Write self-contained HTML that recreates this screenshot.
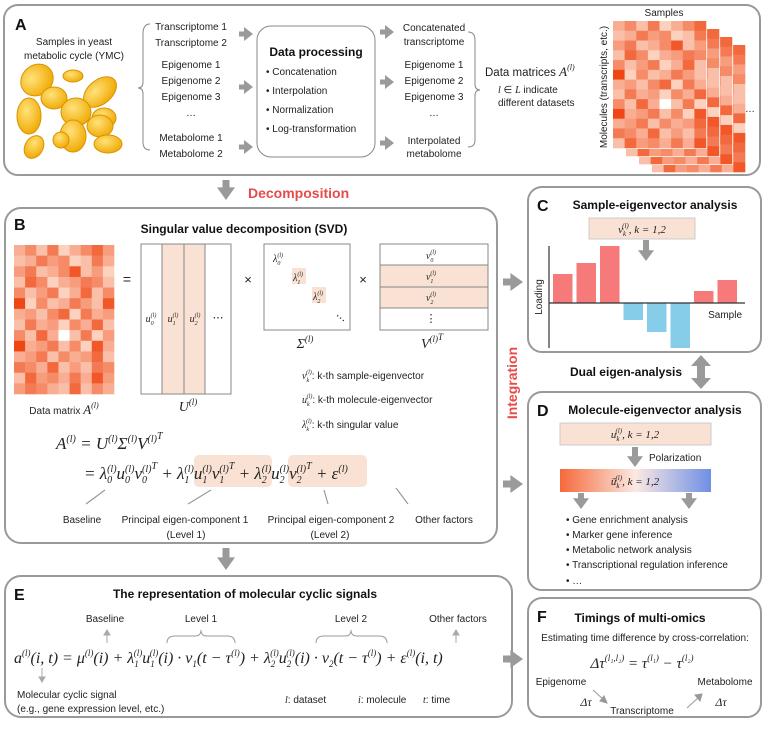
<!DOCTYPE html>
<html><head><meta charset="utf-8">
<style>
html,body{margin:0;padding:0;background:#fff;}
svg{display:block;font-family:"Liberation Sans",sans-serif;}
.t{font-size:10px;fill:#222;}
.b{font-weight:bold;font-size:12px;fill:#111;}
.L{font-weight:bold;font-size:16px;fill:#111;}
.m{font-family:"Liberation Serif",serif;font-style:italic;fill:#222;}
.panel{fill:#fff;stroke:#999;stroke-width:2;}
</style></head>
<body>
<svg id="fig" width="764" height="730" viewBox="0 0 764 730" xmlns="http://www.w3.org/2000/svg">
<defs>
<radialGradient id="yeast" cx="40%" cy="35%" r="70%"><stop offset="0" stop-color="#ffe27a"/><stop offset="1" stop-color="#f0a800"/></radialGradient>
<linearGradient id="pol" x1="0" x2="1"><stop offset="0" stop-color="#f5693a"/><stop offset="0.5" stop-color="#fbe9e2"/><stop offset="1" stop-color="#6f8fe6"/></linearGradient>
</defs>

<g>
<rect class="panel" x="4" y="5" width="756" height="170" rx="14"/>
<text class="L" x="15" y="30">A</text>
<text class="t" x="74" y="45" text-anchor="middle" font-size="11">Samples in yeast</text>
<text class="t" x="74" y="59" text-anchor="middle" font-size="11">metabolic cycle (YMC)</text>
<g fill="url(#yeast)" stroke="#d99400" stroke-width="1">
<ellipse cx="37" cy="80" rx="17" ry="15" transform="rotate(-40 37 80)"/>
<ellipse cx="73" cy="76" rx="10" ry="6"/>
<ellipse cx="100" cy="92" rx="19" ry="12" transform="rotate(-40 100 92)"/>
<ellipse cx="54" cy="98" rx="13" ry="11"/>
<ellipse cx="29" cy="116" rx="12" ry="18"/>
<ellipse cx="76" cy="112" rx="15" ry="14"/>
<ellipse cx="104" cy="118" rx="12" ry="10"/>
<ellipse cx="100" cy="126" rx="13" ry="11"/>
<ellipse cx="73" cy="136" rx="13" ry="16"/>
<ellipse cx="61" cy="140" rx="8" ry="8"/>
<ellipse cx="108" cy="144" rx="14" ry="9"/>
<ellipse cx="34" cy="147" rx="9" ry="12" transform="rotate(30 34 147)"/>
</g>
<path d="M150,24 Q143,24 143,34 L143,82 Q143,88 138,88 Q143,88 143,94 L143,142 Q143,150 150,150" fill="none" stroke="#888" stroke-width="1"/>
<g class="t" text-anchor="middle">
<text x="191" y="30">Transcriptome 1</text><text x="191" y="46">Transcriptome 2</text>
<text x="191" y="68">Epigenome 1</text><text x="191" y="84">Epigenome 2</text><text x="191" y="100">Epigenome 3</text>
<text x="191" y="116">…</text>
<text x="191" y="141">Metabolome 1</text><text x="191" y="157">Metabolome 2</text>
</g>
<rect x="257" y="26" width="118" height="131" rx="14" fill="#fff" stroke="#888"/>
<text class="b" x="316" y="56" text-anchor="middle" font-size="11.5">Data processing</text>
<g class="t">
<text x="266" y="75">•  Concatenation</text><text x="266" y="94">•  Interpolation</text>
<text x="266" y="113">•  Normalization</text><text x="266" y="132">•  Log-transformation</text>
</g>
<g class="t" text-anchor="middle">
<text x="434" y="31">Concatenated</text><text x="434" y="45">transcriptome</text>
<text x="434" y="68">Epigenome 1</text><text x="434" y="84">Epigenome 2</text><text x="434" y="100">Epigenome 3</text>
<text x="434" y="116">…</text>
<text x="434" y="144">Interpolated</text><text x="434" y="157">metabolome</text>
</g>
<path d="M468,32 Q475,32 475,40 L475,84 Q475,90 480,90 Q475,90 475,96 L475,140 Q475,147 468,147" fill="none" stroke="#888" stroke-width="1"/>
<text x="485" y="76" font-size="11.5" fill="#222">Data matrices <tspan class="m" font-size="13">A</tspan><tspan class="m" font-size="8" dy="-6">(l)</tspan></text>
<text class="t" x="498" y="93"><tspan class="m">l</tspan> ∈ <tspan class="m">L</tspan> indicate</text>
<text class="t" x="498" y="106">different datasets</text>
<text class="t" x="664" y="16" text-anchor="middle">Samples</text>
<text class="t" transform="translate(607,87) rotate(-90)" text-anchor="middle" font-size="9.5">Molecules (transcripts, etc.)</text>
<g id="stack"></g>
<text class="t" x="750" y="112" text-anchor="middle">…</text>
</g>
<g id="arrowsA"></g>

<text x="248" y="198" font-weight="bold" font-size="14" fill="#e64b4b">Decomposition</text>

<g>
<rect class="panel" x="5" y="208" width="492" height="335" rx="16"/>
<text class="L" x="14" y="230">B</text>
<text class="b" x="244" y="233" text-anchor="middle">Singular value decomposition (SVD)</text>
<g id="hmB"></g>
<text class="t" x="64" y="414" text-anchor="middle" font-size="11">Data matrix <tspan class="m" font-size="13">A</tspan><tspan class="m" font-size="8" dy="-6">(l)</tspan></text>
<text x="127" y="284" font-size="14" text-anchor="middle" fill="#222">=</text>
<g>
<rect x="141" y="244" width="90" height="150" fill="#fff" stroke="#888"/>
<rect x="162" y="244" width="43" height="150" fill="#f9e2d4" stroke="#888"/>
<line x1="184" y1="244" x2="184" y2="394" stroke="#888"/>
<g class="m" font-size="10" text-anchor="middle">
<text x="151" y="322">u<tspan font-size="6" dy="3">0</tspan><tspan font-size="6" dy="-8" dx="-3">(l)</tspan></text>
<text x="173" y="322">u<tspan font-size="6" dy="3">1</tspan><tspan font-size="6" dy="-8" dx="-3">(l)</tspan></text>
<text x="195" y="322">u<tspan font-size="6" dy="3">2</tspan><tspan font-size="6" dy="-8" dx="-3">(l)</tspan></text>
</g>
<text x="218" y="321" font-size="11" text-anchor="middle" fill="#222">⋯</text>
</g>
<text class="m" x="188" y="411" font-size="14" text-anchor="middle">U<tspan font-size="9" dy="-6">(l)</tspan></text>
<text x="248" y="284" font-size="13" text-anchor="middle" fill="#222">×</text>
<g>
<rect x="264" y="244" width="86" height="86" fill="#fff" stroke="#888"/>
<rect x="292" y="268" width="14" height="16" fill="#f9e2d4"/>
<rect x="312" y="287" width="14" height="16" fill="#f9e2d4"/>
<g class="m" font-size="10">
<text x="273" y="262">λ<tspan font-size="6" dy="3">0</tspan><tspan font-size="6" dy="-8" dx="-3">(l)</tspan></text>
<text x="293" y="281">λ<tspan font-size="6" dy="3">1</tspan><tspan font-size="6" dy="-8" dx="-3">(l)</tspan></text>
<text x="313" y="300">λ<tspan font-size="6" dy="3">2</tspan><tspan font-size="6" dy="-8" dx="-3">(l)</tspan></text>
</g>
<text x="336" y="318" font-size="11" fill="#222" transform="rotate(40 336 315)">⋯</text>
</g>
<text class="m" x="305" y="348" font-size="14" text-anchor="middle">Σ<tspan font-size="9" dy="-6">(l)</tspan></text>
<text x="363" y="284" font-size="13" text-anchor="middle" fill="#222">×</text>
<g>
<rect x="380" y="244" width="108" height="86" fill="#fff" stroke="#888"/>
<rect x="380" y="265" width="108" height="43" fill="#f9e2d4" stroke="#888"/>
<line x1="380" y1="287" x2="488" y2="287" stroke="#888"/>
<g class="m" font-size="10" text-anchor="middle">
<text x="431" y="259">v<tspan font-size="6" dy="3">0</tspan><tspan font-size="6" dy="-8" dx="-3">(l)</tspan></text>
<text x="431" y="280">v<tspan font-size="6" dy="3">1</tspan><tspan font-size="6" dy="-8" dx="-3">(l)</tspan></text>
<text x="431" y="301">v<tspan font-size="6" dy="3">2</tspan><tspan font-size="6" dy="-8" dx="-3">(l)</tspan></text>
</g>
<text x="431" y="322" font-size="11" text-anchor="middle" fill="#222">⋮</text>
</g>
<text class="m" x="432" y="348" font-size="14" text-anchor="middle">V<tspan font-size="9" dy="-6">(l)</tspan><tspan font-size="9" dy="-2">T</tspan></text>
<g class="t" font-size="9.5">
<text x="302" y="379"><tspan class="m">v</tspan><tspan class="m" font-size="6" dy="3">k</tspan><tspan class="m" font-size="6" dy="-8" dx="-3">(l)</tspan><tspan dy="5">: k-th sample-eigenvector</tspan></text>
<text x="302" y="403"><tspan class="m">u</tspan><tspan class="m" font-size="6" dy="3">k</tspan><tspan class="m" font-size="6" dy="-8" dx="-3">(l)</tspan><tspan dy="5">: k-th molecule-eigenvector</tspan></text>
<text x="302" y="428"><tspan class="m">λ</tspan><tspan class="m" font-size="6" dy="3">k</tspan><tspan class="m" font-size="6" dy="-8" dx="-3">(l)</tspan><tspan dy="5">: k-th singular value</tspan></text>
</g>
<rect x="194" y="455" width="78" height="32" rx="5" fill="#f9e2d4"/>
<rect x="288" y="455" width="79" height="32" rx="5" fill="#f9e2d4"/>
<g class="m" font-size="17">
<text x="56" y="449">A<tspan font-size="10" dy="-7">(l)</tspan><tspan dy="7"> = U</tspan><tspan font-size="10" dy="-7">(l)</tspan><tspan dy="7">Σ</tspan><tspan font-size="10" dy="-7">(l)</tspan><tspan dy="7">V</tspan><tspan font-size="10" dy="-7">(l)</tspan><tspan font-size="10" dy="-3">T</tspan></text>
<text x="84" y="479">= λ<tspan font-size="10" dy="4">0</tspan><tspan font-size="10" dy="-11" dx="-5">(l)</tspan><tspan dy="7">u</tspan><tspan font-size="10" dy="4">0</tspan><tspan font-size="10" dy="-11" dx="-5">(l)</tspan><tspan dy="7">v</tspan><tspan font-size="10" dy="4">0</tspan><tspan font-size="10" dy="-11" dx="-5">(l)</tspan><tspan font-size="10" dy="-3">T</tspan><tspan dy="10"> + λ</tspan><tspan font-size="10" dy="4">1</tspan><tspan font-size="10" dy="-11" dx="-5">(l)</tspan><tspan dy="7">u</tspan><tspan font-size="10" dy="4">1</tspan><tspan font-size="10" dy="-11" dx="-5">(l)</tspan><tspan dy="7">v</tspan><tspan font-size="10" dy="4">1</tspan><tspan font-size="10" dy="-11" dx="-5">(l)</tspan><tspan font-size="10" dy="-3">T</tspan><tspan dy="10"> + λ</tspan><tspan font-size="10" dy="4">2</tspan><tspan font-size="10" dy="-11" dx="-5">(l)</tspan><tspan dy="7">u</tspan><tspan font-size="10" dy="4">2</tspan><tspan font-size="10" dy="-11" dx="-5">(l)</tspan><tspan dy="7">v</tspan><tspan font-size="10" dy="4">2</tspan><tspan font-size="10" dy="-11" dx="-5">(l)</tspan><tspan font-size="10" dy="-3">T</tspan><tspan dy="10"> + ε</tspan><tspan font-size="10" dy="-7">(l)</tspan></text>
</g>
<g stroke="#999" stroke-width="1.2" fill="#999">
<line x1="105" y1="490" x2="86" y2="504"/><line x1="211" y1="490" x2="188" y2="504"/>
<line x1="324" y1="490" x2="328" y2="504"/><line x1="396" y1="488" x2="408" y2="504"/>
</g>
<g class="t" text-anchor="middle" font-size="9.5">
<text x="82" y="523">Baseline</text><text x="185" y="523">Principal eigen-component 1</text>
<text x="331" y="523">Principal eigen-component 2</text><text x="444" y="523">Other factors</text>
<text x="186" y="538">(Level 1)</text><text x="330" y="538">(Level 2)</text>
</g>
</g>

<text transform="translate(517,383) rotate(-90)" text-anchor="middle" font-weight="bold" font-size="14" fill="#e64b4b">Integration</text>

<g>
<rect class="panel" x="528" y="187" width="233" height="165" rx="14"/>
<text class="L" x="537" y="211">C</text>
<text class="b" x="655" y="209" text-anchor="middle">Sample-eigenvector analysis</text>
<rect x="589" y="218" width="106" height="21" fill="#f9e2d4" stroke="#ccc"/>
<text class="m" x="642" y="233" font-size="11" text-anchor="middle">v<tspan font-size="7" dy="3">k</tspan><tspan font-size="7" dy="-8" dx="-4">(l)</tspan><tspan dy="5">, k = 1,2</tspan></text>
<g id="chartC"></g>
<text class="t" font-size="12" transform="translate(542,297) rotate(-90)" text-anchor="middle">Loading</text>
<text class="t" font-size="12" x="742" y="318" text-anchor="end">Sample</text>
</g>
<text class="b" x="626" y="376" text-anchor="middle">Dual eigen-analysis</text>

<g>
<rect class="panel" x="528" y="392" width="233" height="198" rx="14"/>
<text class="L" x="537" y="416">D</text>
<text class="b" x="655" y="414" text-anchor="middle">Molecule-eigenvector analysis</text>
<rect x="560" y="423" width="151" height="22" fill="#f9e2d4" stroke="#ccc"/>
<text class="m" x="635" y="438" font-size="11" text-anchor="middle">u<tspan font-size="7" dy="3">k</tspan><tspan font-size="7" dy="-8" dx="-4">(l)</tspan><tspan dy="5">, k = 1,2</tspan></text>
<text class="t" x="649" y="461">Polarization</text>
<rect x="560" y="469" width="151" height="23" fill="url(#pol)"/>
<text class="m" x="635" y="485" font-size="11" text-anchor="middle">ū<tspan font-size="7" dy="3">k</tspan><tspan font-size="7" dy="-8" dx="-4">(l)</tspan><tspan dy="5">, k = 1,2</tspan></text>
<g class="t">
<text x="566" y="523">•  Gene enrichment analysis</text><text x="566" y="538">•  Marker gene inference</text>
<text x="566" y="553">•  Metabolic network analysis</text><text x="566" y="568">•  Transcriptional regulation inference</text>
<text x="566" y="584">•  …</text>
</g>
</g>

<g>
<rect class="panel" x="5" y="576" width="507" height="141" rx="16"/>
<text class="L" x="14" y="600">E</text>
<text class="b" x="245" y="598" text-anchor="middle">The representation of molecular cyclic signals</text>
<g class="t" text-anchor="middle">
<text x="105" y="622">Baseline</text><text x="201" y="622">Level 1</text><text x="351" y="622">Level 2</text><text x="458" y="622">Other factors</text>
</g>
<path d="M167,643 Q167,636 175,636 L195,636 Q201,636 201,630 Q201,636 207,636 L227,636 Q235,636 235,643" fill="none" stroke="#999"/>
<path d="M316,643 Q316,636 324,636 L345,636 Q351,636 351,630 Q351,636 357,636 L379,636 Q387,636 387,643" fill="none" stroke="#999"/>
<g class="m" font-size="16">
<text x="14" y="663">a<tspan font-size="9" dy="-7">(l)</tspan><tspan dy="7">(i, t) = μ</tspan><tspan font-size="9" dy="-7">(l)</tspan><tspan dy="7">(i) + λ</tspan><tspan font-size="9" dy="4">1</tspan><tspan font-size="9" dy="-11" dx="-5">(l)</tspan><tspan dy="7">u</tspan><tspan font-size="9" dy="4">1</tspan><tspan font-size="9" dy="-11" dx="-5">(l)</tspan><tspan dy="7">(i) · v</tspan><tspan font-size="9" dy="4">1</tspan><tspan dy="-4">(t − τ</tspan><tspan font-size="9" dy="-7">(l)</tspan><tspan dy="7">) + λ</tspan><tspan font-size="9" dy="4">2</tspan><tspan font-size="9" dy="-11" dx="-5">(l)</tspan><tspan dy="7">u</tspan><tspan font-size="9" dy="4">2</tspan><tspan font-size="9" dy="-11" dx="-5">(l)</tspan><tspan dy="7">(i) · v</tspan><tspan font-size="9" dy="4">2</tspan><tspan dy="-4">(t − τ</tspan><tspan font-size="9" dy="-7">(l)</tspan><tspan dy="7">) + ε</tspan><tspan font-size="9" dy="-7">(l)</tspan><tspan dy="7">(i, t)</tspan></text>
</g>
<g stroke="#aaa" fill="#aaa">
<line x1="107" y1="643" x2="107" y2="634"/><path d="M104,635 L107,630 L110,635Z"/>
<line x1="456" y1="643" x2="456" y2="634"/><path d="M453,635 L456,630 L459,635Z"/>
<line x1="42" y1="668" x2="42" y2="678"/><path d="M39,677 L42,682 L45,677Z"/>
</g>
<g class="t">
<text x="17" y="698">Molecular cyclic signal</text><text x="17" y="712">(e.g., gene expression level, etc.)</text>
<text x="285" y="703"><tspan class="m">l</tspan>: dataset</text>
<text x="358" y="703"><tspan class="m">i</tspan>: molecule</text>
<text x="423" y="703"><tspan class="m">t</tspan>: time</text>
</g>
</g>

<g>
<rect class="panel" x="528" y="598" width="233" height="119" rx="14"/>
<text class="L" x="537" y="622">F</text>
<text class="b" x="640" y="622" text-anchor="middle">Timings of multi-omics</text>
<text class="t" x="645" y="641" text-anchor="middle" font-size="9.5">Estimating time difference by cross-correlation:</text>
<text class="m" x="642" y="668" font-size="15" text-anchor="middle">Δτ<tspan font-size="9" dy="-7">(l₁,l₂)</tspan><tspan dy="7"> = τ</tspan><tspan font-size="9" dy="-7">(l₁)</tspan><tspan dy="7"> − τ</tspan><tspan font-size="9" dy="-7">(l₂)</tspan></text>
<g class="t">
<text x="561" y="685" text-anchor="middle">Epigenome</text>
<text x="642" y="714" text-anchor="middle">Transcriptome</text>
<text x="725" y="685" text-anchor="middle">Metabolome</text>
</g>
<text class="m" x="586" y="706" font-size="12" text-anchor="middle">Δτ</text>
<text class="m" x="721" y="706" font-size="12" text-anchor="middle">Δτ</text>
<g stroke="#999" fill="#999"><line x1="593" y1="690" x2="604" y2="700"/><path d="M600,701 L607,703 L604,696Z"/>
<line x1="687" y1="708" x2="699" y2="697"/><path d="M695,695 L702,694 L700,701Z"/></g>
</g>
<g id="bigArrows"></g>
</svg>

<script>
// ---- Panel C bar chart data ----
const sampleCategories = ["S1","S2","S3","S4","S5","S6","S7","S8"];
const loadingValues = [29, 40, 57, -17, -29, -45, 12, 23];
const yDomain = [-45, 57];
// ---- heatmap intensities (0-9) ----
const heatRows = [
"352613574","236451263","462358241","275134652","524613725",
"915236428","342571634","263415372","527302614","934625183",
"346253472","653724265","274536384","465327253"];

(function(){
  const NS="http://www.w3.org/2000/svg";
  const g=document.getElementById('chartC');
  const zeroY=303, pxPerUnit=(348-246)/(yDomain[1]-yDomain[0]);
  const xScale=i=>553+i*23.5;
  const yScale=v=>zeroY-v*pxPerUnit;
  sampleCategories.forEach((c,i)=>{
    const v=loadingValues[i];
    const r=document.createElementNS(NS,'rect');
    r.setAttribute('x',xScale(i));
    r.setAttribute('y',Math.min(yScale(v),zeroY));
    r.setAttribute('width',19.5);
    r.setAttribute('height',Math.abs(yScale(v)-zeroY));
    r.setAttribute('fill',v>=0?'#f77a7a':'#86cdea');
    
    
    g.appendChild(r);
  });
  const ax=document.createElementNS(NS,'path');
  ax.setAttribute('d','M549,246 L549,348 M549,'+zeroY+' L745,'+zeroY);
  ax.setAttribute('stroke','#333');ax.setAttribute('stroke-width','1.2');ax.setAttribute('fill','none');
  
  
  g.appendChild(ax);

  const lo=[253,226,210], hi=[240,70,20];
  const col=v=>{const t=v/9;return 'rgb('+lo.map((l,i)=>Math.round(l+(hi[i]-l)*t)).join(',')+')';};
  function heat(par,x,y,w,h,cols,rows,name){
    const cw=w/cols, ch=h/rows;
    const grp=document.createElementNS(NS,'g');
    
    
    const bg=document.createElementNS(NS,'rect');
    bg.setAttribute('x',x-1);bg.setAttribute('y',y-1);bg.setAttribute('width',w+2);bg.setAttribute('height',h+2);bg.setAttribute('fill','#fff');
    grp.appendChild(bg);
    for(let r=0;r<rows;r++)for(let c=0;c<cols;c++){
      const v=+heatRows[r%heatRows.length][c%9];
      const e=document.createElementNS(NS,'rect');
      e.setAttribute('x',x+c*cw);e.setAttribute('y',y+r*ch);
      e.setAttribute('width',cw+0.3);e.setAttribute('height',ch+0.3);
      e.setAttribute('fill',v===0?'#fff':col(v));
      grp.appendChild(e);
    }
    par.appendChild(grp);
  }
  const st=document.getElementById('stack');
  for(let k=3;k>=0;k--) heat(st,613+k*13,21+k*8,93,127,8,13,'heatmap-layer-'+k);
  heat(document.getElementById('hmB'),14,245,100,149,9,14,'heatmap-b');

  function arrow(parent,x,y,dir,len,w,name){
    const p=document.createElementNS(NS,'path');
    const s=w*0.5, hw=w, hl=w*0.9;
    let d;
    if(dir==='r') d='M'+x+','+(y-s/2)+' L'+(x+len-hl)+','+(y-s/2)+' L'+(x+len-hl)+','+(y-hw/2-2)+' L'+(x+len)+','+y+' L'+(x+len-hl)+','+(y+hw/2+2)+' L'+(x+len-hl)+','+(y+s/2)+' L'+x+','+(y+s/2)+'Z';
    else d='M'+(x-s/2)+','+y+' L'+(x-s/2)+','+(y+len-hl)+' L'+(x-hw/2-2)+','+(y+len-hl)+' L'+x+','+(y+len)+' L'+(x+hw/2+2)+','+(y+len-hl)+' L'+(x+s/2)+','+(y+len-hl)+' L'+(x+s/2)+','+y+'Z';
    p.setAttribute('d',d);p.setAttribute('fill','#9a9a9a');
    
    
    parent.appendChild(p);
  }
  const A=document.getElementById('arrowsA');
  [34,87,147].forEach((y,i)=>arrow(A,239,y,'r',14,10,'arrow-in-'+i));
  [32,82,143].forEach((y,i)=>arrow(A,380,y,'r',14,10,'arrow-out-'+i));
  const B=document.getElementById('bigArrows');
  arrow(B,226,180,'d',20,14,'arrow-decomposition');
  arrow(B,226,548,'d',22,14,'arrow-b-to-e');
  arrow(B,503,282,'r',20,14,'arrow-b-to-c');
  arrow(B,503,484,'r',20,14,'arrow-b-to-d');
  arrow(B,503,659,'r',20,14,'arrow-e-to-f');
  arrow(B,646,240,'d',21,12,'arrow-c-down');
  arrow(B,635,447,'d',20,12,'arrow-polarization');
  arrow(B,581,493,'d',16,12,'arrow-d-left');
  arrow(B,689,493,'d',16,12,'arrow-d-right');
  const da=document.createElementNS(NS,'path');
  da.setAttribute('d','M701,355 L711,366 L705,366 L705,378 L711,378 L701,389 L691,378 L697,378 L697,366 L691,366Z');
  da.setAttribute('fill','#9a9a9a');
  
  
  B.appendChild(da);
})();
</script>
</body></html>
